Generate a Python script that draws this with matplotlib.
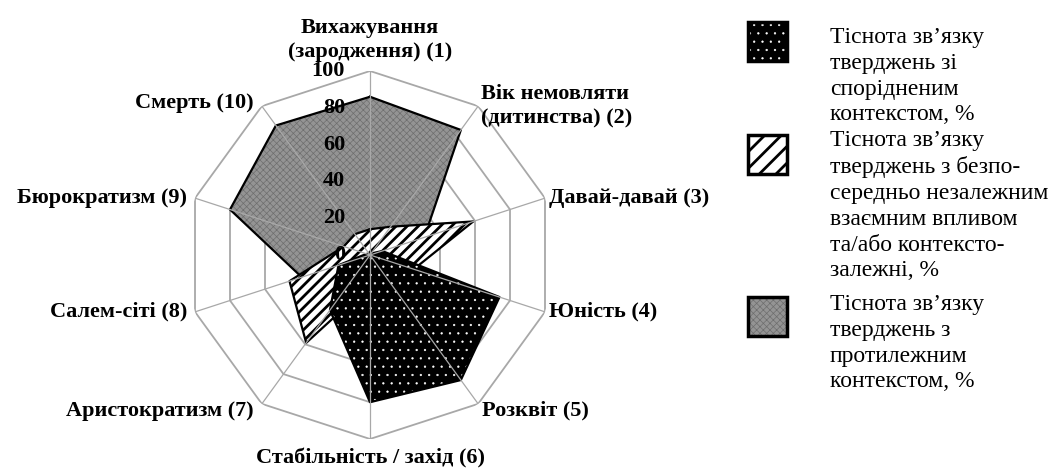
import numpy as np
import matplotlib
matplotlib.use("Agg")
import matplotlib.pyplot as plt
from matplotlib.patches import Rectangle

plt.rcParams["font.family"] = ["Liberation Serif", "DejaVu Serif"]
plt.rcParams["hatch.linewidth"] = 1.8

# ── data ────────────────────────────────────────────────────────
categories = [
    "Вихажування\n(зародження) (1)",
    "Вік немовляти\n(дитинства) (2)",
    "Давай-давай (3)",
    "Юність (4)",
    "Розквіт (5)",
    "Стабільність / захід (6)",
    "Аристократизм (7)",
    "Салем-сіті (8)",
    "Бюрократизм (9)",
    "Смерть (10)",
]
related = [0, 1, 7, 74, 84, 80, 37, 18, 2, 0]          # dotted black
independent = [14, 19, 59, 25, 15, 16, 59, 46, 15, 14]  # hatched
opposite = [86, 84, 31, 10, 8, 10, 20, 39, 80, 87]      # grey
r_ticks = [0, 20, 40, 60, 80, 100]
legend_labels = [
    "Тіснота зв’язку\nтверджень зі\nспорідненим\nконтекстом, %",
    "Тіснота зв’язку\nтверджень з безпо-\nсередньо незалежним\nвзаємним впливом\nта/або контексто-\nзалежні, %",
    "Тіснота зв’язку\nтверджень з\nпротилежним\nконтекстом, %",
]

W, H = 1053, 470
fig = plt.figure(figsize=(W / 100, H / 100), dpi=100)


def fx(x):
    return x / W


def fy(y):
    return 1 - y / H


# radar axes: centre (370, 255) px, radius 184 px
cx, cy, R = 370, 255, 184
ax = fig.add_axes([fx(cx - R), fy(cy + R), 2 * R / W, 2 * R / H],
                  projection="polar")
ax.set_theta_zero_location("N")
ax.set_theta_direction(-1)
ax.set_ylim(0, 100)
ax.grid(False)
ax.set_xticks([])
ax.set_yticks([])
ax.spines["polar"].set_visible(False)
ax.patch.set_alpha(0)

n = len(categories)
theta = np.arange(n) * 2 * np.pi / n
tc = np.append(theta, theta[0])

grid_c = "#a8a8a8"
for v in r_ticks[1:]:
    ax.plot(tc, [v] * (n + 1), color=grid_c, lw=1.3, zorder=1)


def close(vals):
    return np.append(vals, vals[0])


series = [
    (opposite, "#949494", "xxxxx", "#6e6e6e", 0.5),
    (independent, "white", "///", "black", 2.0),
    (related, "black", "..", "white", 0.4),
]
z = 2
for vals, face, hatch, hcol, hlw in series:
    plt.rcParams["hatch.linewidth"] = hlw
    polys = ax.fill(tc, close(vals), facecolor=face, edgecolor=hcol,
                    hatch=hatch, lw=0, zorder=z)
    for p in polys:
        if hasattr(p, "set_hatch_linewidth"):
            p.set_hatch_linewidth(hlw)
    ax.plot(tc, close(vals), color="black", lw=1.6, zorder=z + 0.5)
    z += 1

for t in theta:
    ax.plot([t, t], [0, 100], color=grid_c, lw=0.9, zorder=6)

for v in r_ticks:
    ax.annotate(str(v), xy=(0, v), xytext=(-25, 0), textcoords="offset pixels",
                ha="right", va="center", fontsize=16, fontweight="bold",
                zorder=7, annotation_clip=False)

# category labels around outer ring
offsets = [
    (0, 9, "center", "bottom"),
    (3, 0, "left", "center"),
    (4, 0, "left", "center"),
    (4, 0, "left", "center"),
    (4, -7, "left", "center"),
    (0, -9, "center", "top"),
    (-8, -7, "right", "center"),
    (-8, 0, "right", "center"),
    (-8, 0, "right", "center"),
    (-8, 3, "right", "center"),
]
for t, lab, (dx, dy, ha, va) in zip(theta, categories, offsets):
    ax.annotate(lab, xy=(t, 100), xytext=(dx, dy), textcoords="offset pixels",
                ha=ha, va=va, fontsize=16, fontweight="bold",
                multialignment="center" if ha == "center" else "left",
                linespacing=1.25, annotation_clip=False)

# legend drawn by hand
leg_boxes = [22, 135, 297]
leg_top = [27, 130, 294]
for (vals, face, hatch, hcol, hlw), top, ttop, lab in zip(
        series[::-1], leg_boxes, leg_top, legend_labels):
    plt.rcParams["hatch.linewidth"] = hlw
    r = Rectangle((fx(748), fy(top + 39)), 39 / W, 39 / H,
                  transform=fig.transFigure, facecolor=face, edgecolor=hcol,
                  hatch=hatch.replace("///", "//"), lw=0)
    if hasattr(r, "set_hatch_linewidth"):
        r.set_hatch_linewidth(hlw)
    fig.add_artist(r)
    fig.add_artist(Rectangle((fx(748), fy(top + 39)), 39 / W, 39 / H,
                             transform=fig.transFigure, facecolor="none",
                             edgecolor="black", lw=2.5))
    fig.text(fx(830), fy(ttop), lab, ha="left", va="top",
             fontsize=17, linespacing=1.3)

plt.rcParams["hatch.linewidth"] = 1.8
fig.savefig("out.png", dpi=100)
